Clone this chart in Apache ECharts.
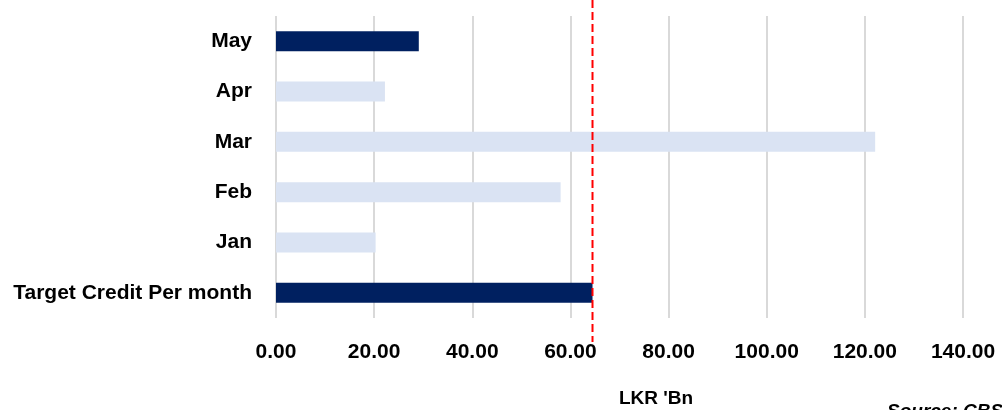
<!DOCTYPE html>
<html lang="en">
  <head>
    <meta charset="UTF-8" />
    <title>Credit per month</title>
    <script src="https://cdn.jsdelivr.net/npm/echarts@6/dist/echarts.min.js"></script>
    <style>
      body {
        margin: 0;
        background: #fff;
      }
      #main {
        width: 1002px;
        height: 410px;
      }
    </style>
  </head>
  <body>
    <div id="main"></div>
    <script>
      // data
      const categories = ["Target Credit Per month", "Jan", "Feb", "Mar", "Apr", "May"];
      const values = [64.5, 20.3, 58.0, 122.1, 22.2, 29.1];
      const highlighted = ["Target Credit Per month", "May"];
      const targetLine = 64.5;
      const xTicks = [0, 20, 40, 60, 80, 100, 120, 140];

      const font = "Liberation Sans";
      const navy = "#002060";
      const light = "#dae3f3";

      var myChart = echarts.init(document.getElementById("main"));
      var option = {
        animation: false,
        textStyle: { fontFamily: font },
        title: [
          {
            text: "LKR 'Bn",
            left: 651,
            top: 384,
            textAlign: "center",
            textStyle: { fontFamily: font, fontSize: 19, fontWeight: "bold", color: "#000" },
          },
          {
            text: "Source: CBSL",
            left: 882,
            top: 397,
            textStyle: {
              fontFamily: font,
              fontSize: 19,
              fontWeight: "bold",
              fontStyle: "italic",
              color: "#000",
            },
          },
        ],
        grid: { left: 276, right: 39, top: 16, bottom: 92, containLabel: false },
        xAxis: {
          type: "value",
          min: xTicks[0],
          max: xTicks[xTicks.length - 1],
          interval: xTicks[1] - xTicks[0],
          axisLine: { show: false },
          axisTick: { show: false },
          splitLine: { lineStyle: { color: "#d9d9d9", width: 2 } },
          axisLabel: {
            margin: 24,
            fontFamily: font,
            fontSize: 21,
            fontWeight: "bold",
            color: "#000",
            formatter: (v) => v.toFixed(2),
          },
        },
        yAxis: {
          type: "category",
          data: categories,
          axisLine: { show: false },
          axisTick: { show: false },
          axisLabel: {
            margin: 24,
            fontFamily: font,
            fontSize: 21,
            fontWeight: "bold",
            color: "#000",
          },
        },
        series: [
          {
            type: "bar",
            data: values,
            barWidth: 20,
            itemStyle: {
              color: (p) => (highlighted.includes(categories[p.dataIndex]) ? navy : light),
            },
          },
        ],
      };
      myChart.setOption(option);

      // red dashed target line, runs past the plot area like the original
      var lineX = myChart.convertToPixel({ xAxisIndex: 0 }, targetLine);
      myChart.setOption({
        graphic: [
          {
            type: "line",
            z: 10,
            shape: { x1: lineX, y1: 0, x2: lineX, y2: 342 },
            style: { stroke: "#ff0000", lineWidth: 2, lineDash: [8, 4] },
          },
        ],
      });
    </script>
  </body>
</html>
